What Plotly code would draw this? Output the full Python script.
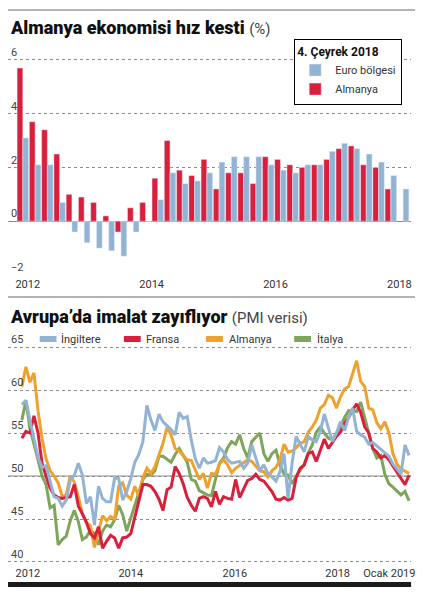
import plotly.graph_objects as go

# sayfa govdesinin 8px kenar boslugu var; tasarim pikselleri buna gore kaydiriliyor
OFF = 8
W, H = 423 - OFF, 603 - OFF

# --- ust grafik: GSYH buyumesi (ceyreklik, yillik %) ---
quarters = list(range(32))
almanya_gdp = [5.7, 3.7, 3.4, 2.5, 1.0, 0.9, 0.7, 0.2, -0.4, 0.5, 0.7, 1.6,
               3.0, 1.9, 1.7, 2.3, 1.2, 1.8, 1.8, 1.4, 2.4, 2.3, 2.1, 2.0,
               2.1, 2.3, 2.7, 2.8, 2.1, 2.0, 1.2, None]
euro_gdp = [3.1, 2.1, 2.1, 0.7, -0.4, -0.8, -1.0, -1.1, -1.3, -0.4, 0.0, 0.8,
            1.8, 1.4, 1.5, 1.8, 2.2, 2.4, 2.4, 2.4, 2.1, 1.9, 1.8, 2.1,
            2.1, 2.6, 2.9, 2.7, 2.5, 2.2, 1.7, 1.2]
gdp_tick_pos = [0.4, 10.5, 20.6, 30.7]
gdp_tick_text = ["2012", "2014", "2016", "2018"]

# --- alt grafik: imalat PMI (aylik, Ocak 2011 - Ocak 2019) ---
months = list(range(97))
ingiltere = [58.3, 58.8, 56.5, 54.2, 52.2, 51.0, 51.2, 49.4, 47.6, 47.4, 46.5, 47.2,
             49.5, 50.1, 51.5, 50.1, 46.8, 47.6, 44.3, 48.8, 47.4, 47.0, 47.0, 49.8,
             49.7, 47.2, 48.2, 49.7, 51.6, 52.5, 54.0, 58.2, 56.5, 55.3, 57.2, 56.3,
             55.9, 55.4, 54.8, 57.4, 56.7, 56.9, 54.2, 52.0, 50.9, 52.1, 51.5, 51.6,
             51.8, 53.3, 52.8, 51.9, 51.5, 51.6, 51.7, 50.9, 51.5, 53.6, 52.1, 50.6,
             51.3, 50.3, 49.9, 49.4, 50.5, 52.6, 47.4, 51.5, 54.6, 53.6, 52.8, 54.6,
             54.2, 54.0, 55.2, 57.2, 55.7, 54.0, 55.0, 56.3, 55.3, 56.8, 57.9, 55.2,
             54.8, 54.5, 53.7, 53.9, 53.5, 53.1, 52.8, 52.3, 51.4, 50.8, 50.2, 53.6,
             52.4]
fransa = [54.4, 55.2, 55.0, 57.0, 55.0, 51.5, 50.0, 48.6, 47.8, 47.5, 47.4, 47.5,
          47.6, 49.0, 46.5, 45.6, 44.6, 43.3, 42.8, 44.1, 41.6, 42.4, 43.1, 42.8,
          41.6, 42.8, 42.9, 43.3, 45.3, 47.2, 49.0, 49.0, 48.8, 48.2, 47.3, 46.0,
          48.4, 48.7, 51.1, 50.3, 49.1, 47.5, 46.6, 45.9, 47.4, 47.6, 47.4, 46.4,
          48.2, 46.7, 47.6, 47.4, 47.3, 49.6, 47.5, 48.5, 49.5, 49.7, 50.2, 49.6,
          49.4, 48.8, 48.2, 47.3, 47.2, 47.5, 47.2, 47.4, 49.8, 50.9, 51.3, 52.6,
          52.8, 51.7, 53.0, 54.3, 53.2, 53.9, 54.6, 55.1, 56.1, 56.8, 57.7, 58.4,
          57.4, 55.7, 55.0, 53.2, 52.8, 52.1, 52.4, 51.9, 51.2, 50.4, 49.7, 49.0,
          50.1]
almanya = [60.4, 62.7, 60.9, 62.0, 57.6, 54.4, 52.0, 50.6, 50.0, 49.2, 47.6, 47.8,
           50.0, 49.3, 47.6, 45.6, 44.6, 44.2, 41.7, 43.6, 45.4, 44.8, 45.3, 45.0,
           48.8, 49.2, 47.8, 47.3, 48.8, 47.6, 49.8, 50.9, 50.3, 51.1, 52.4, 53.8,
           55.7, 54.8, 53.2, 52.9, 52.4, 51.9, 51.8, 50.7, 49.6, 50.3, 48.6, 50.3,
           50.2, 51.4, 51.9, 51.3, 50.4, 50.9, 51.2, 51.5, 51.9, 51.7, 51.2, 50.6,
           50.5, 49.9, 50.6, 51.0, 51.9, 53.7, 52.8, 52.9, 53.3, 53.8, 54.0, 55.1,
           55.7, 56.5, 57.9, 58.3, 59.4, 59.1, 57.9, 59.2, 60.1, 60.4, 61.9, 63.4,
           61.0, 60.4, 57.9, 57.7, 56.2, 55.5, 56.3, 55.0, 52.6, 51.4, 50.8, 50.5,
           50.3]
italya = [56.5, 58.8, 55.5, 53.8, 51.9, 50.0, 49.0, 46.3, 46.6, 42.0, 42.6, 43.0,
          44.8, 46.0, 44.7, 42.6, 42.9, 43.7, 43.3, 42.0, 43.6, 44.3, 44.1, 44.9,
          46.6, 45.5, 43.6, 45.1, 46.6, 48.2, 49.6, 50.2, 50.1, 50.6, 52.3, 52.3,
          52.0, 51.6, 52.5, 53.2, 52.4, 51.6, 49.6, 49.4, 48.3, 48.0, 47.8, 47.7,
          49.5, 51.5, 52.1, 53.3, 54.0, 53.7, 54.8, 53.2, 52.1, 54.0, 54.5, 55.0,
          52.6, 51.7, 52.6, 53.0, 51.3, 50.2, 50.1, 49.1, 50.0, 50.7, 51.3, 52.7,
          53.6, 55.1, 55.7, 55.0, 54.4, 54.2, 55.0, 55.8, 56.8, 57.6, 57.6, 57.5,
          58.6, 56.7, 55.0, 53.2, 52.1, 52.4, 50.2, 49.1, 48.7, 48.3, 47.8, 48.2,
          47.1]
pmi_tick_pos = [1.5, 27.0, 52.8, 78.3, 91.1]
pmi_tick_text = ["2012", "2014", "2016", "2018", "Ocak 2019"]

RED = "#da1f3d"
BLUE = "#93b3d4"
ORANGE = "#efa12d"
GREEN = "#7fa55a"
FONT = "Roboto"


def px(x):
    return max(x - OFF, 0) / W


def py(y):
    return 1 - max(y - OFF, 0) / H


fig = go.Figure()

fig.add_trace(go.Bar(x=quarters, y=almanya_gdp, name="Almanya", marker_color=RED,
                     xaxis="x", yaxis="y"))
fig.add_trace(go.Bar(x=quarters, y=euro_gdp, name="Euro bölgesi", marker_color=BLUE,
                     xaxis="x", yaxis="y"))

lines = [("İtalya", italya, GREEN), ("Almanya", almanya, ORANGE),
         ("Fransa", fransa, RED), ("İngiltere", ingiltere, BLUE)]
for name, vals, col in lines:
    fig.add_trace(go.Scatter(x=months, y=vals, name=name, mode="lines",
                             line=dict(color=col, width=3), showlegend=False,
                             xaxis="x2", yaxis="y2", cliponaxis=False))

grid = dict(showgrid=True, gridcolor="#8c8c8c", griddash="dot", gridwidth=1)

fig.update_layout(
    width=W, height=H,
    margin=dict(l=0, r=0, t=0, b=0),
    paper_bgcolor="white", plot_bgcolor="white",
    font=dict(family=FONT, size=11, color="#333"),
    barmode="group", bargap=0.06, bargroupgap=0,
    xaxis=dict(domain=[px(8), px(415)], range=[-1.21, 31.65], anchor="y",
               tickvals=gdp_tick_pos, ticktext=gdp_tick_text, showgrid=False,
               zeroline=False, ticks=""),
    yaxis=dict(domain=[py(276), py(40)], range=[-2.037, 6.741], anchor="x",
               tickvals=[-2, 0, 2, 4, 6], ticklabelposition="inside top",
               zeroline=True, zerolinecolor="#8c8c8c", zerolinewidth=1,
               ticks="", **grid),
    xaxis2=dict(domain=[px(8), px(415)], range=[-3.44, 96.5], anchor="y2",
                tickvals=pmi_tick_pos, ticktext=pmi_tick_text, showgrid=False,
                zeroline=False, ticks=""),
    yaxis2=dict(domain=[py(565), py(330)], range=[39.65, 66.98], anchor="x2",
                tickvals=[40, 45, 50, 55, 60, 65], ticklabelposition="inside top",
                zeroline=False, ticks="", **grid),
    legend=dict(x=px(297), y=py(39), xanchor="left", yanchor="top",
                bordercolor="black", borderwidth=1, bgcolor="white",
                traceorder="reversed", itemwidth=30,
                title=dict(text="<b>4. Çeyrek 2018</b>", font=dict(size=12, color="#111")),
                font=dict(size=11)),
)

# alt grafik aciklamasi (elle)
for name, col, x0, tx in [("İngiltere", BLUE, 40, 60), ("Fransa", RED, 125, 145),
                          ("Almanya", ORANGE, 208, 229), ("İtalya", GREEN, 297, 318)]:
    fig.add_shape(type="line", xref="paper", yref="paper", x0=px(x0), x1=px(x0 + 17),
                  y0=py(339), y1=py(339), line=dict(color=col, width=6))
    fig.add_annotation(xref="paper", yref="paper", x=px(tx), y=py(339), xanchor="left",
                       yanchor="middle", showarrow=False, text=name,
                       font=dict(size=11, color="#333"))

# basliklar
fig.add_annotation(xref="paper", yref="paper", x=0, y=py(27), xanchor="left",
                   yanchor="middle", showarrow=False,
                   text="Almanya ekonomisi hız kesti "
                        "<span style='font-weight:400;color:#444;font-size:15px'>(%)</span>",
                   font=dict(family=FONT, size=18, color="#111", weight=900))
fig.add_annotation(xref="paper", yref="paper", x=0, y=py(316), xanchor="left",
                   yanchor="middle", showarrow=False,
                   text="Avrupa’da imalat zayıflıyor "
                        "<span style='font-weight:400;color:#444;font-size:15px'>(PMI verisi)</span>",
                   font=dict(family=FONT, size=18, color="#111", weight=900))

# cizgiler
fig.add_shape(type="line", xref="paper", yref="paper", x0=0, x1=1, y0=py(10), y1=py(10),
              line=dict(color="#9a9a9a", width=1.5))
fig.add_shape(type="line", xref="paper", yref="paper", x0=0, x1=1, y0=py(297), y1=py(297),
              line=dict(color="#9a9a9a", width=1.5))
fig.add_shape(type="line", xref="x2 domain", yref="y2", x0=0, x1=1, y0=50, y1=50,
              line=dict(color="#8c8c8c", width=1), layer="below")
fig.add_shape(type="rect", xref="paper", yref="paper", x0=px(8), x1=px(415),
              y0=py(587), y1=py(582), fillcolor="#1c1c1c", line=dict(width=0))

fig.write_html("out.html")
